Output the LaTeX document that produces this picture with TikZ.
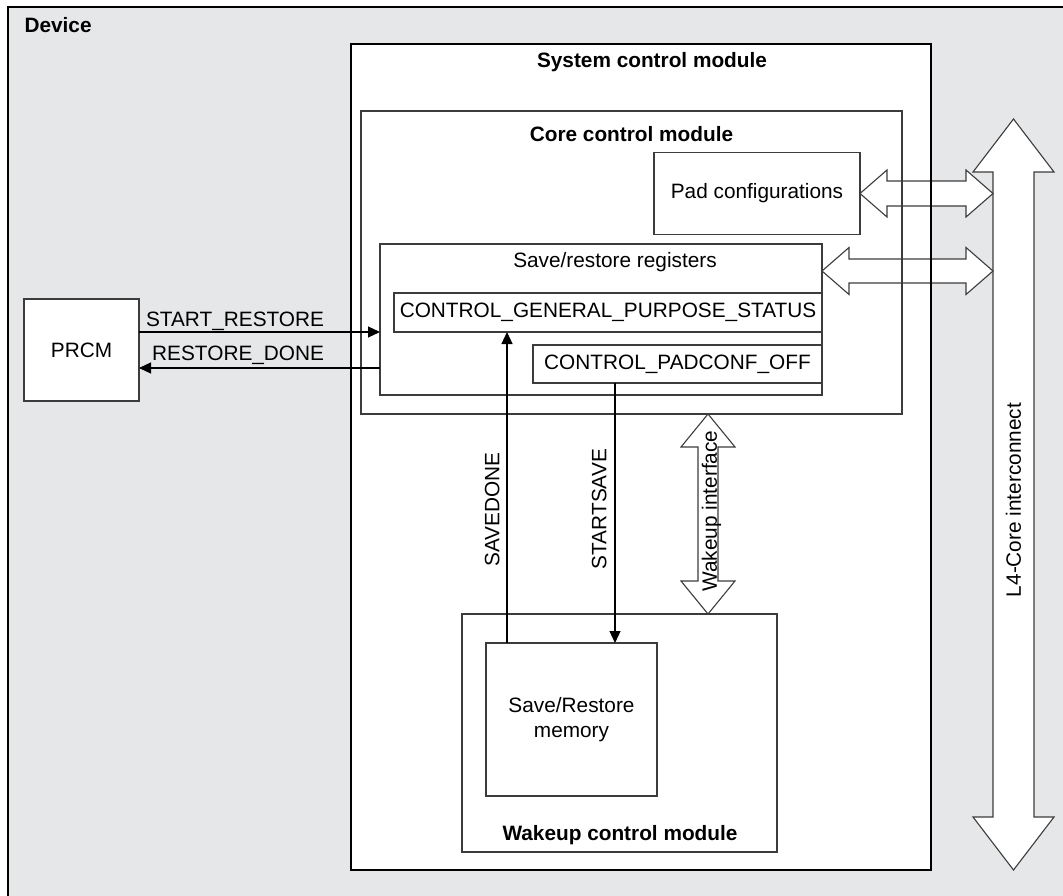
\documentclass[tikz,border=0pt]{standalone}
\usepackage{fontspec}
\setmainfont{Liberation Sans}
\usetikzlibrary{arrows.meta,calc}
\definecolor{devgray}{HTML}{E6E7E8}
\definecolor{edge}{HTML}{3C3C3C}
\tikzset{
  box/.style={draw=edge,line width=1.1pt,fill=white,inner sep=2pt,outer sep=0pt,align=center},
  bigbox/.style={draw=black,line width=2.6pt,fill=white,inner sep=0pt,outer sep=0pt},
  title/.style={font=\fontsize{20.8}{25}\selectfont\bfseries},
  sig/.style={draw=black,line width=1.1pt,-{Triangle[length=12pt,width=11pt]}},
  fat/.style={draw=edge,line width=1.1pt,fill=white,line join=miter},
}
% fat double arrows: from, to, shaft half, head half, head length
\newcommand{\hfat}[5]{%
  \draw[fat] (#1) -- ($(#1)+(#5,-#4)$) -- ($(#1)+(#5,-#3)$) -- ($(#2)+(-#5,-#3)$) -- ($(#2)+(-#5,-#4)$) -- (#2)
    -- ($(#2)+(-#5,#4)$) -- ($(#2)+(-#5,#3)$) -- ($(#1)+(#5,#3)$) -- ($(#1)+(#5,#4)$) -- cycle;}
\newcommand{\vfat}[5]{%
  \draw[fat] (#1) -- ($(#1)+(#4,#5)$) -- ($(#1)+(#3,#5)$) -- ($(#2)+(#3,-#5)$) -- ($(#2)+(#4,-#5)$) -- (#2)
    -- ($(#2)+(-#4,-#5)$) -- ($(#2)+(-#3,-#5)$) -- ($(#1)+(-#3,#5)$) -- ($(#1)+(-#4,#5)$) -- cycle;}
\begin{document}
\begin{tikzpicture}[x=1pt,y=-1pt,every node/.style={font=\fontsize{20.8}{25}\selectfont}]
\useasboundingbox (0,0) rectangle (1063,896);
% device frame
\node[bigbox,fill=devgray,minimum width=1060pt,minimum height=898pt] (dev) at (538,456) {};
\node[title,anchor=base west] (devlbl) at (21,33) {Device};
% system control module
\node[bigbox,minimum width=580pt,minimum height=826pt] (sys) at (641,457) {};
\node[title,anchor=base] (syslbl) at (652,68) {System control module};
% core control module
\node[box,minimum width=541pt,minimum height=303pt] (core) at (631.5,262.5) {};
\node[title,anchor=base] (corelbl) at (631.5,142) {Core control module};
\node[box,minimum width=206pt,minimum height=82pt] (pad) at (757,193.5) {Pad configurations};
\node[box,minimum width=442pt,minimum height=151pt] (srr) at (601,319.5) {};
\node[anchor=base] (srrlbl) at (615,268) {Save/restore registers};
\node[box,minimum width=428pt,minimum height=39pt] (cgps) at (608,312.5) {CONTROL\_GENERAL\_PURPOSE\_STATUS};
\node[box,minimum width=289pt,minimum height=38pt] (cpo) at (677.5,364) {CONTROL\_PADCONF\_OFF};
% PRCM
\node[box,minimum width=115pt,minimum height=102pt] (prcm) at (81.5,350) {PRCM};
% wakeup control module
\node[box,minimum width=315pt,minimum height=238pt] (wake) at (619.5,733) {};
\node[title,anchor=base] (wakelbl) at (620,840) {Wakeup control module};
\node[box,minimum width=171pt,minimum height=153pt] (mem) at (571.5,719.5) {Save/Restore\\memory};
% L4 interconnect
\coordinate (l4t) at (1013.5,119);
\coordinate (l4b) at (1013.5,870);
\coordinate (l4w) at (993,494.5);
\vfat{l4t}{l4b}{20.5}{40.5}{53}
\node[rotate=90,inner sep=0pt] (l4lbl) at (1013.5,500) {L4-Core interconnect};
% links to the interconnect
\coordinate (padr) at (pad.east -| l4w);
\hfat{pad.east}{padr}{12.5}{23.5}{27}
\coordinate (srrl) at (srr.east |- 0,271);
\coordinate (srrr) at (l4w |- 0,271);
\hfat{srrl}{srrr}{12}{23.5}{27}
% box edges show through the links
\draw[line width=2.6pt] (sys.north east) -- (sys.south east);
\draw[draw=edge,line width=1.1pt] (core.north east) -- (core.south east);
% wakeup interface
\coordinate (wkt) at (core.south -| 708,0);
\coordinate (wkb) at (wake.north -| 708,0);
\vfat{wkt}{wkb}{10}{27}{33}
\node[rotate=90,inner sep=0pt] (wklbl) at (711.5,511) {Wakeup interface};
% signals
\draw[sig] (prcm.east |- 0,332) -- node[pos=0.784,anchor=base east,yshift=6pt] {START\_RESTORE} (srr.west |- 0,332);
\draw[sig] (srr.west |- 0,368) -- node[pos=0.216,anchor=base east,yshift=8pt] {RESTORE\_DONE} (prcm.east |- 0,368);
\draw[sig] (mem.north -| 507,0) -- node[pos=0.43,rotate=90,anchor=south,inner sep=7pt] {SAVEDONE} (cgps.south -| 507,0);
\draw[sig] (cpo.south -| 615,0) -- node[pos=0.485,rotate=90,anchor=south,inner sep=8pt] {STARTSAVE} (mem.north -| 615,0);
\end{tikzpicture}
\end{document}
